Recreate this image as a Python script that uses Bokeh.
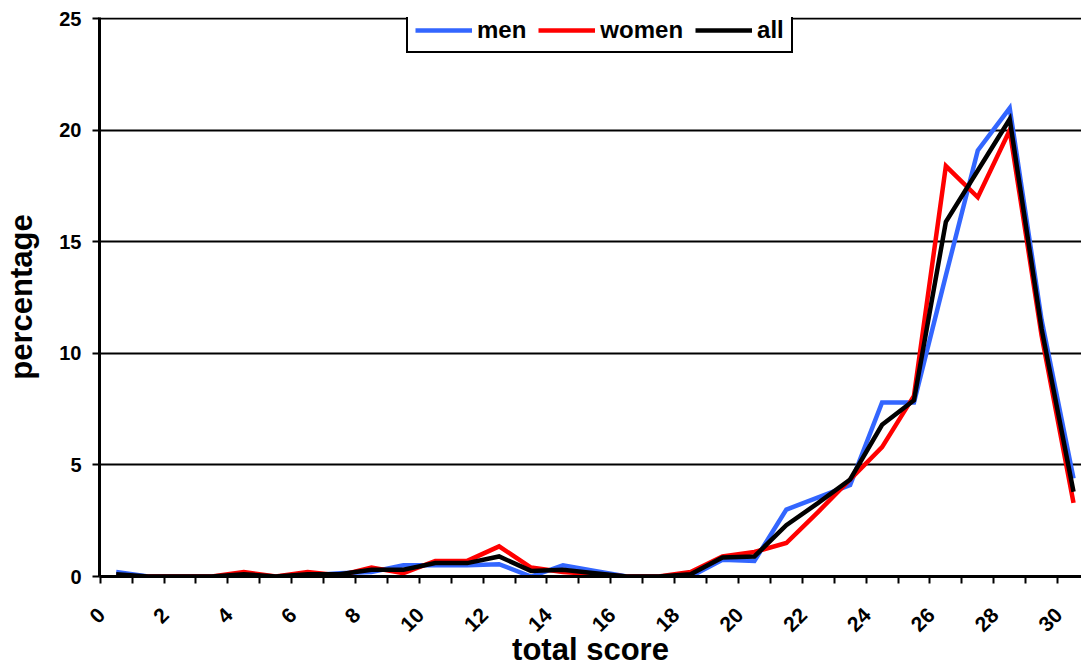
from bokeh.plotting import figure
from bokeh.models import FixedTicker, Legend, LegendItem, Range1d, CustomJSTickFormatter
from bokeh.embed import file_html
from bokeh.resources import INLINE
from math import pi

# ---- data ----
scores = list(range(31))
men = [0.2, 0, 0, 0, 0, 0, 0.05, 0.15, 0.2, 0.5, 0.5, 0.5, 0.55, 0, 0.5, 0.25,
       0, 0, 0, 0.75, 0.7, 3.0, 3.55, 4.1, 7.8, 7.8, 13.5, 19.1, 21.0, 11.5, 4.4]
women = [0, 0, 0, 0, 0.2, 0, 0.2, 0.05, 0.4, 0.15, 0.7, 0.7, 1.35, 0.4, 0.2, 0.1,
         0, 0, 0.2, 0.9, 1.1, 1.5, 2.9, 4.35, 5.8, 8.1, 18.4, 17.0, 20.0, 10.8, 3.3]
all_ = [0.1, 0, 0, 0, 0.1, 0, 0.1, 0.1, 0.3, 0.3, 0.6, 0.6, 0.9, 0.25, 0.3, 0.15,
        0, 0, 0.1, 0.85, 0.9, 2.3, 3.3, 4.35, 6.8, 7.9, 15.9, 18.2, 20.5, 11.1, 3.8]
series_names = ["men", "women", "all"]
x_label_ticks = list(range(0, 31, 2))
x_boundary_ticks = [i - 0.5 for i in range(0, 31)]
y_ticks = [0, 5, 10, 15, 20, 25]

FONT = "Liberation Sans"
BLUE = "#3366FF"
RED = "#FF0000"
BLACK = "#000000"
LABEL_SHIFT = 0.46  # rotated labels sit a little left of the category centre

p = figure(width=1081, height=669, output_backend="svg", toolbar_location=None,
           x_range=Range1d(-0.523, 30.25), y_range=Range1d(0, 25.06),
           min_border_left=99, min_border_right=0, min_border_top=17,
           min_border_bottom=93)
p.outline_line_color = None
p.background_fill_color = "white"
p.border_fill_color = "white"

# x axis
xa = p.xaxis[0]
xa.ticker = FixedTicker(ticks=[t - LABEL_SHIFT for t in x_label_ticks],
                        minor_ticks=x_boundary_ticks)
xa.formatter = CustomJSTickFormatter(
    args=dict(shift=LABEL_SHIFT),
    code="return String(Math.round(tick + shift));")
xa.major_tick_out = 0
xa.major_tick_in = 0
xa.minor_tick_out = 7
xa.minor_tick_in = 0
xa.minor_tick_line_color = BLACK
xa.minor_tick_line_width = 2
xa.axis_line_color = BLACK
xa.axis_line_width = 3
xa.major_label_orientation = pi / 4
xa.major_label_standoff = 28
xa.major_label_text_font = FONT
xa.major_label_text_font_style = "bold"
xa.major_label_text_font_size = "21px"
xa.major_label_text_color = BLACK
xa.axis_label = "total score"
xa.axis_label_text_font = FONT
xa.axis_label_text_font_style = "bold"
xa.axis_label_text_font_size = "31px"
xa.axis_label_text_color = BLACK
xa.axis_label_standoff = -9

# y axis
ya = p.yaxis[0]
ya.ticker = FixedTicker(ticks=y_ticks)
ya.major_tick_out = 7
ya.major_tick_in = 0
ya.major_tick_line_color = BLACK
ya.major_tick_line_width = 2
ya.minor_tick_line_color = None
ya.axis_line_color = BLACK
ya.axis_line_width = 3
ya.major_label_standoff = 11
ya.major_label_text_font = FONT
ya.major_label_text_font_style = "bold"
ya.major_label_text_font_size = "20px"
ya.major_label_text_color = BLACK
ya.axis_label = "percentage"
ya.axis_label_text_font = FONT
ya.axis_label_text_font_style = "bold"
ya.axis_label_text_font_size = "31px"
ya.axis_label_text_color = BLACK
ya.axis_label_standoff = 17

# grid
p.xgrid.grid_line_color = None
p.ygrid.ticker = FixedTicker(ticks=y_ticks)
p.ygrid.grid_line_color = BLACK
p.ygrid.grid_line_width = 2
p.ygrid.grid_line_alpha = 1

# lines
r_men = p.line(scores, men, line_color=BLUE, line_width=4.5, line_join="miter")
r_women = p.line(scores, women, line_color=RED, line_width=4.5, line_join="miter")
r_all = p.line(scores, all_, line_color=BLACK, line_width=4.5, line_join="miter")

legend = Legend(items=[LegendItem(label=series_names[0], renderers=[r_men]),
                       LegendItem(label=series_names[1], renderers=[r_women]),
                       LegendItem(label=series_names[2], renderers=[r_all])],
                location=(307, 523), orientation="horizontal")
legend.glyph_width = 57
legend.glyph_height = 28
legend.label_height = 28
legend.label_standoff = 5
legend.spacing = 12
legend.padding = 7
legend.margin = 0
legend.border_line_color = BLACK
legend.border_line_width = 2
legend.border_line_alpha = 1
legend.background_fill_color = "white"
legend.background_fill_alpha = 1
legend.label_text_font = FONT
legend.label_text_font_style = "bold"
legend.label_text_font_size = "24px"
legend.label_text_color = BLACK
p.add_layout(legend, "center")

open("out.html", "w").write(file_html(p, INLINE))
